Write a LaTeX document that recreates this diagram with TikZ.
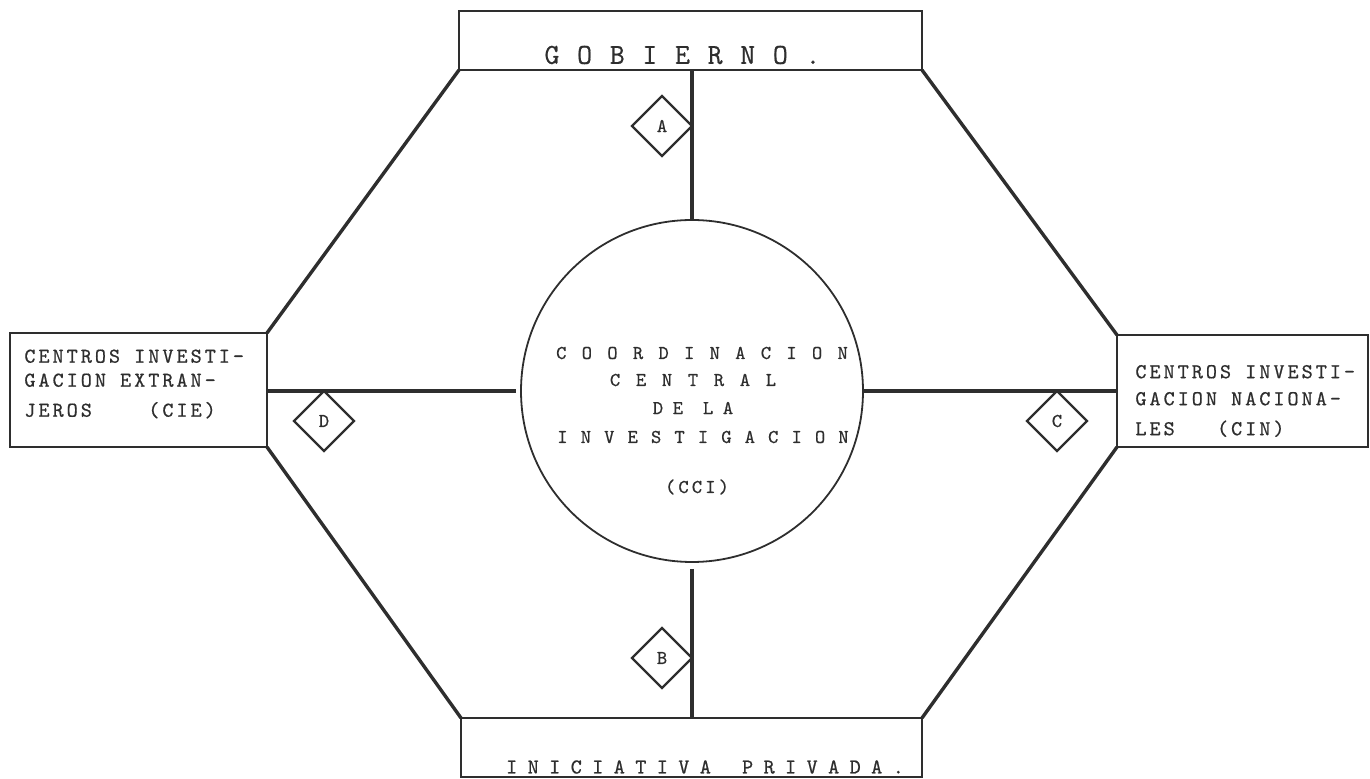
\documentclass[tikz,border=0pt]{standalone}
\usepackage{fontspec}
\setmonofont[FakeBold=0.6]{Latin Modern Mono}
\usetikzlibrary{shapes.geometric,positioning,calc}
\definecolor{InkGray}{HTML}{2E2E2E}

\begin{document}
\begin{tikzpicture}[
    x=0.5pt, y=-0.5pt,
    box/.style={
      draw=InkGray,
      line width=1.4pt,
      rectangle,
      inner sep=0pt,
      outer sep=0pt
    },
    link/.style={
      draw=InkGray,
      line width=1.7pt
    },
    rhomb/.style={
      diamond,
      draw=InkGray,
      line width=1.2pt,
      minimum size=30pt,
      inner sep=0pt,
      outer sep=0pt,
      text=InkGray,
      font=\ttfamily\fontsize{9.8pt}{9.8pt}\selectfont
    },
    boxtext/.style={
      anchor=west,
      align=left,
      inner sep=0pt,
      text=InkGray
    },
    ccitext/.style={
      inner sep=0pt,
      text=InkGray,
      font=\ttfamily\fontsize{9.8pt}{9.8pt}\selectfont\addfontfeature{LetterSpace=#1}
    }
  ]
  \useasboundingbox (0,0) rectangle (1370,779);

  % boxes and centre
  \node[box, minimum width=231.5pt, minimum height=29.5pt] (gob) at (690.5,40.5) {};
  \node[box, minimum width=230.5pt, minimum height=29.5pt] (ini) at (691.5,747.5) {};
  \node[box, minimum width=128.5pt, minimum height=57pt]   (cie) at (138.5,390) {};
  \node[box, minimum width=125.5pt, minimum height=56pt]   (cin) at (1242.5,391) {};
  \node[circle, draw=InkGray, line width=0.9pt, minimum size=171pt,
        inner sep=0pt, outer sep=0pt] (cci) at (692,391) {};

  % hexagon sides
  \draw[link] (gob.south west) -- (cie.north east);
  \draw[link] (gob.south east) -- (cin.north west);
  \draw[link] (cie.south east) -- (ini.north west);
  \draw[link] (cin.south west) -- (ini.north east);

  % spokes
  \draw[link] (cci.north) -- (cci.north |- gob.south);
  \draw[link] ([yshift=-3.5pt]cci.south) -- (cci.south |- ini.north);
  \draw[link] (cie.east |- cci.west) -- ([xshift=-2.5pt]cci.west);
  \draw[link] (cci.east) -- (cin.west |- cci.east);

  % diamonds
  \node[rhomb, anchor=east]  (dA) at (692,126)  {A};
  \node[rhomb, anchor=east]  (dB) at (692,658)  {B};
  \node[rhomb, anchor=north] (dC) at (1057,391) {C};
  \node[rhomb, anchor=north] (dD) at (324,391)  {D};

  % texts
  \node[inner sep=0pt, text=InkGray,
        font=\ttfamily\fontsize{14.5pt}{14.5pt}\selectfont\addfontfeature{LetterSpace=61}]
    (gobtxt) at (682.5,55) {GOBIERNO.};
  \node[inner sep=0pt, text=InkGray,
        font=\ttfamily\fontsize{10.6pt}{10.6pt}\selectfont\addfontfeature{LetterSpace=49}]
    (initxt) at (705,767) {INICIATIVA\hspace{4.8pt} PRIVADA.};
  \node[boxtext, font=\ttfamily\fontsize{10.6pt}{12pt}\selectfont\addfontfeature{LetterSpace=14}]
    (cietxt) at (24,384)
    {CENTROS INVESTI-\\GACION EXTRAN-\\[3pt]JEROS~~~~(CIE)};
  \node[boxtext, font=\ttfamily\fontsize{10.6pt}{13.5pt}\selectfont\addfontfeature{LetterSpace=14}]
    (cintxt) at (1135,401)
    {CENTROS INVESTI-\\GACION NACIONA-\\[1.5pt]LES~~~(CIN)};

  \node[ccitext=78] (cciA) at (702,353) {COORDINACION};
  \node[ccitext=80] (cciB) at (693,380) {CENTRAL};
  \node[ccitext=49] (cciC) at (693,408) {DE LA};
  \node[ccitext=67] (cciD) at (703,437) {INVESTIGACION};
  \node[ccitext=16] (cciE) at (697,487) {(CCI)};

\end{tikzpicture}
\end{document}
